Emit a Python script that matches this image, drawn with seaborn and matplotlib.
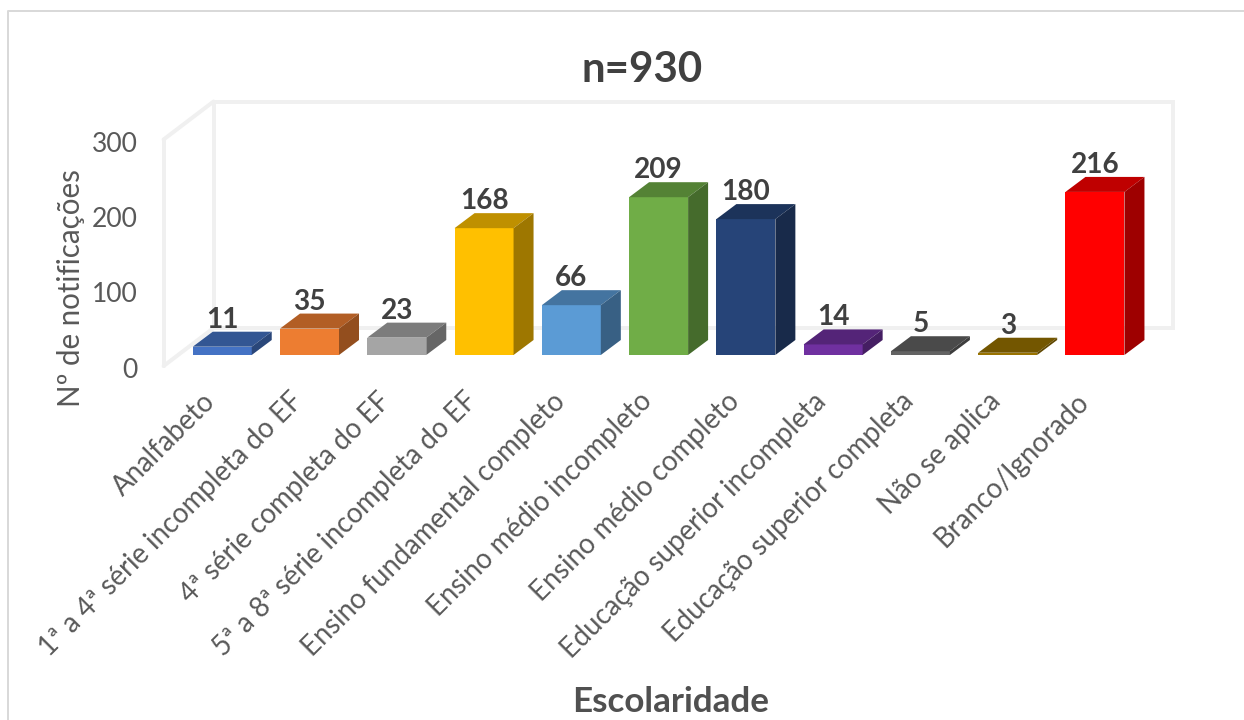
import matplotlib
matplotlib.use("Agg")
import matplotlib.pyplot as plt
import pandas as pd
import seaborn as sns
from matplotlib.lines import Line2D
from matplotlib.patches import Polygon
from matplotlib.transforms import ScaledTranslation
from matplotlib.colors import to_rgb

categories = [
    "Analfabeto",
    "1ª a 4ª série incompleta do EF",
    "4ª série completa do EF",
    "5ª a 8ª série incompleta do EF",
    "Ensino fundamental completo",
    "Ensino médio incompleto",
    "Ensino médio completo",
    "Educação superior incompleta",
    "Educação superior completa",
    "Não se aplica",
    "Branco/Ignorado",
]
values = [11, 35, 23, 168, 66, 209, 180, 14, 5, 3, 216]
colors = ["#4472C4", "#ED7D31", "#A5A5A5", "#FFC000", "#5B9BD5", "#70AD47",
          "#264478", "#7030A0", "#636363", "#997300", "#FF0000"]
yticks = [0, 100, 200, 300]

W, H = 1244, 720
DPI = 100
px = 72 / DPI  # one pixel in points

sns.set_theme(style="white")
plt.rcParams["font.family"] = ["Lato", "DejaVu Sans"]

df = pd.DataFrame({"cat": categories, "n": values})

fig = plt.figure(figsize=(W / DPI, H / DPI), dpi=DPI)
# plot box in pixels: x 178.6-1138.6, baseline 355, 300 at 128.5
ax = fig.add_axes([178.6 / W, 1 - 355 / H, 960 / W, 226.5 / H])
ax.patch.set_alpha(0)

sns.barplot(data=df, x="cat", y="n", hue="cat", palette=colors, width=0.676,
            legend=False, saturation=1, linewidth=0, ax=ax, zorder=3)
ax.set_xlim(-0.5, 10.5)
ax.set_ylim(0, 300)
sns.despine(ax=ax, left=True, bottom=True)

unit_x = 87.3  # px per category
unit_y = 226.5 / 300  # px per notification
depth_x = 20 / unit_x
depth_y = 15 / unit_y


def shade(col, k):
    return tuple(c * k for c in to_rgb(col))


# fake 3d box behind the bars
wall = "#F0F0F0"
x0, y0 = -0.5 - 15 / unit_x, -11 / unit_y   # front floor corner
x1, y1 = -0.5 + 35 / unit_x, 27 / unit_y    # back floor corner
x2 = x1 + 960 / unit_x
top = 300
for xs, ys in [([x1, x2, x2, x1, x1], [y1, y1, y1 + top, y1 + top, y1]),
               ([x0, x1], [y0, y1]),
               ([x0, x1], [y0 + top, y1 + top]),
               ([x0, x0], [y0, y0 + top])]:
    ax.plot(xs, ys, color=wall, lw=4 * px, clip_on=False, zorder=1,
            solid_joinstyle="miter")

for bar, val, col in zip(ax.patches, values, colors):
    l = bar.get_x()
    r = l + bar.get_width()
    h = bar.get_height()
    bar.set_clip_on(False)
    top_face = [(l, h), (r, h), (r + depth_x, h + depth_y), (l + depth_x, h + depth_y)]
    side_face = [(r, 0), (r + depth_x, depth_y), (r + depth_x, h + depth_y), (r, h)]
    ax.add_patch(Polygon(top_face, closed=True, fc=shade(col, 0.75), ec="none",
                         clip_on=False, zorder=3))
    ax.add_patch(Polygon(side_face, closed=True, fc=shade(col, 0.62), ec="none",
                         clip_on=False, zorder=3))
    ax.annotate(str(val), (l + bar.get_width() / 2, h), xytext=(0, 27 * px),
                textcoords="offset points", ha="center", va="center",
                fontsize=28 * px, fontweight="bold", color="#404040",
                annotation_clip=False, zorder=5)

# y ticks sit on the front edge of the floor
ax.set_yticks(yticks)
ax.set_yticklabels([str(t) for t in yticks], fontsize=26.5 * px, color="#595959")
ax.tick_params(axis="y", length=0, pad=41 * px)
shift = ScaledTranslation(0, -13 / DPI, fig.dpi_scale_trans)
for lab in ax.get_yticklabels():
    lab.set_transform(lab.get_transform() + shift)

ax.set_xticks(range(len(categories)))
ax.set_xticklabels(categories, rotation=45, ha="right", va="top",
                   rotation_mode="anchor", fontsize=27.5 * px, color="#595959")
ax.tick_params(axis="x", length=0, pad=28 * px)
xshift = ScaledTranslation(-20 / DPI, -5 / DPI, fig.dpi_scale_trans)
for lab in ax.get_xticklabels():
    lab.set_transform(lab.get_transform() + xshift)
ax.set_xlabel("")
ax.set_ylabel("")

fig.text(642 / W, 1 - 70 / H, "n=930", ha="center", va="center",
         fontsize=42 * px, fontweight="bold", color="#404040")
fig.text(671 / W, 1 - 702 / H, "Escolaridade", ha="center", va="center",
         fontsize=35 * px, fontweight="bold", color="#505050")
fig.text(71 / W, 1 - 288 / H, "Nº de notificações", rotation=90, ha="center",
         va="center", fontsize=29.5 * px, color="#595959")

# chart border, only top and left show
fig.add_artist(Line2D([8 / W, 8 / W, 1], [0, 1 - 10.5 / H, 1 - 10.5 / H],
                      color="#D9D9D9", lw=2 * px))

fig.savefig("out.png", dpi=DPI)
